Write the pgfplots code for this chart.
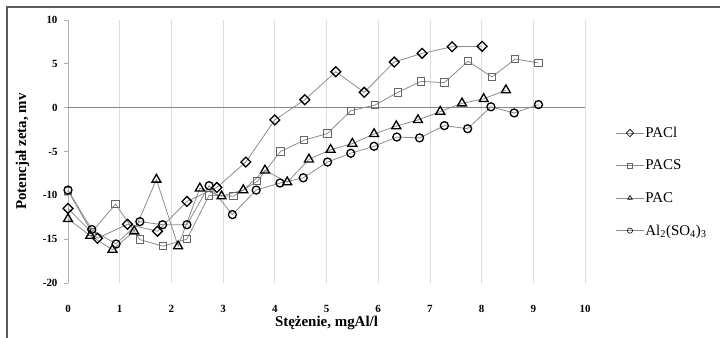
\documentclass[border=0pt]{standalone}
\usepackage{fontspec}
\setmainfont{Liberation Serif}
\usepackage{pgfplots}
\pgfplotsset{compat=1.18}
\definecolor{serline}{HTML}{8C8C8C}
\definecolor{gridc}{HTML}{DCDCDC}
\definecolor{zeroc}{HTML}{868686}
\definecolor{framec}{HTML}{5A5A5A}
\begin{document}
\begin{tikzpicture}
\path[use as bounding box] (0,0) rectangle (720bp,338bp);
\draw[framec, line width=1.6bp] (7bp,0) -- (7bp,331bp) -- (720bp,331bp);
\begin{axis}[
  at={(68bp,55bp)}, anchor=south west,
  scale only axis, width=517bp, height=263bp,
  xmin=0, xmax=10, ymin=-20, ymax=10,
  clip=false,
  axis y line*=left, axis x line*=bottom,
  x axis line style={draw=none},
  y axis line style={draw=gridc!80!black, line width=0.8bp, -},
  xtick={0,1,...,10}, ytick={-20,-15,-10,-5,0,5,10},
  yticklabels={-20,-15,-10,-5,0,5,10},
  xtick style={draw=none},
  ytick style={draw=gridc!80!black, line width=0.8bp},
  tick align=outside, major tick length=4bp,
  xmajorgrids, grid style={gridc, line width=0.8bp},
  tick label style={font=\fontsize{11}{12}\selectfont\bfseries},
  xticklabel style={yshift=-15bp},
  yticklabel style={xshift=-3bp},
  /pgf/number format/assume math mode=true,
  xlabel={Stężenie, mgAl/l},
  ylabel={Potencjał zeta, mv},
  label style={font=\fontsize{15}{16}\selectfont\bfseries},
  xlabel style={at={(axis description cs:0.5,-0.152)}, anchor=center},
  ylabel style={at={(axis description cs:-0.088,0.5)}, anchor=center, rotate=0},
  legend style={at={(axis description cs:1.053,0.605)}, anchor=north west,
    draw=none, fill=none, font=\fontsize{15}{15}\selectfont,
    row sep=19bp, nodes={inner sep=1bp}},
  legend cell align=left,
  legend image code/.code={\draw[mark repeat=2, mark phase=2, #1, mark size=2.6pt, /tikz/every mark/.append style={line width=0.6bp}] plot coordinates {(0bp,0bp) (14bp,0bp) (28bp,0bp)};},
  every axis plot/.append style={draw=serline, line width=0.8bp},
]
\addplot[zeroc, line width=1.4bp, forget plot] coordinates {(0,0) (10,0)};
\addplot[mark=square, mark size=3.5pt, mark options={rotate=45, draw=black, fill=white, line width=1.3bp}] coordinates {
(0,-11.5) (0.57,-14.9) (1.15,-13.3) (1.73,-14.1) (2.3,-10.7) (2.88,-9.1) (3.44,-6.2) (4.0,-1.4) (4.58,0.9) (5.18,4.1) (5.73,1.75) (6.31,5.2) (6.85,6.2) (7.43,6.95) (8.01,7.0)};
\addlegendentry{PACl}
\addplot[mark=square, mark size=3.7pt, mark options={draw=black!60, fill=white, line width=1bp}] coordinates {
(0,-9.5) (0.46,-14.2) (0.92,-11.0) (1.39,-15.05) (1.84,-15.8) (2.3,-15.0) (2.73,-10.0) (3.2,-10.1) (3.66,-8.4) (4.11,-5.0) (4.57,-3.7) (5.02,-2.95) (5.47,-0.35) (5.94,0.3) (6.38,1.75) (6.83,3.0) (7.28,2.85) (7.74,5.3) (8.2,3.5) (8.65,5.55) (9.1,5.1)};
\addlegendentry{PACS}
\addplot[mark=triangle, mark size=5.2pt, mark options={draw=black, fill=white, line width=1.3bp}] coordinates {
(0,-12.7) (0.43,-14.6) (0.86,-16.2) (1.28,-14.1) (1.71,-8.2) (2.13,-15.8) (2.55,-9.2) (2.97,-10.1) (3.39,-9.4) (3.81,-7.15) (4.24,-8.5) (4.66,-5.9) (5.08,-4.8) (5.5,-4.1) (5.92,-3.0) (6.35,-2.1) (6.77,-1.4) (7.2,-0.45) (7.62,0.5) (8.04,1.0) (8.47,2.0)};
\addlegendentry{PAC}
\addplot[mark=o, mark size=4pt, mark options={draw=black, fill=white, line width=1.3bp}] coordinates {
(0,-9.4) (0.46,-13.9) (0.93,-15.55) (1.39,-13.0) (1.83,-13.35) (2.3,-13.35) (2.73,-8.9) (3.18,-12.2) (3.64,-9.4) (4.1,-8.6) (4.55,-8.0) (5.02,-6.2) (5.47,-5.2) (5.92,-4.4) (6.36,-3.35) (6.8,-3.45) (7.28,-2.05) (7.73,-2.4) (8.18,0.1) (8.63,-0.6) (9.1,0.35)};
\addlegendentry{Al\textsubscript{2}(SO\textsubscript{4})\textsubscript{3}}
\end{axis}
\end{tikzpicture}
\end{document}
